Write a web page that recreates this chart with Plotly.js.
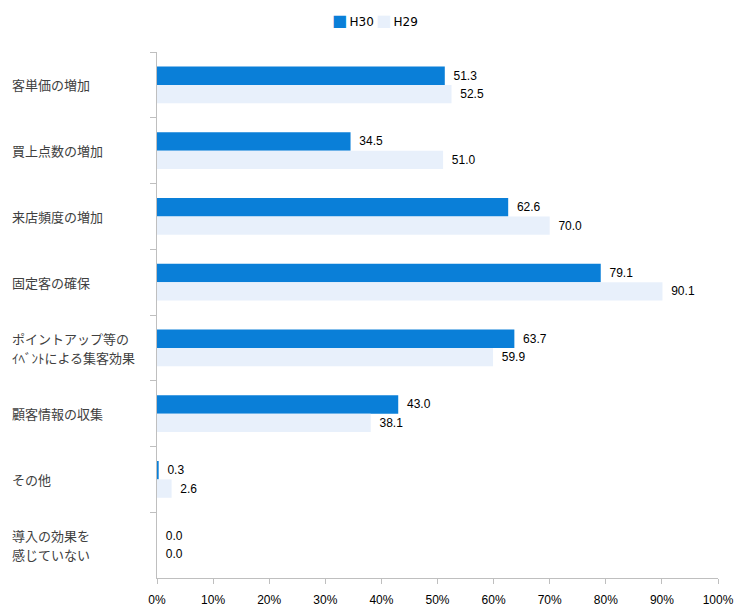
<!DOCTYPE html>
<html>
<head>
<meta charset="utf-8">
<script src="https://cdn.plot.ly/plotly-3.0.1.min.js"></script>
<style>body{margin:0;padding:0;background:#fff;}#chart{width:742px;height:608px;}</style>
</head>
<body>
<div id="chart"></div>
<script>
var categories = ["客単価の増加", "買上点数の増加", "来店頻度の増加", "固定客の確保", "ポイントアップ等の<br>ｲﾍﾞﾝﾄによる集客効果", "顧客情報の収集", "その他", "導入の効果を<br>感じていない"];
var h30 = [51.3, 34.5, 62.6, 79.1, 63.7, 43.0, 0.3, 0.0];
var h29 = [52.5, 51.0, 70.0, 90.1, 59.9, 38.1, 2.6, 0.0];
var seriesNames = ["H30", "H29"];
var seriesColors = ["#0A7FD8", "#E8F0FB"];
var xTicks = [0, 10, 20, 30, 40, 50, 60, 70, 80, 90, 100];

var numFont = {family: "Liberation Sans, Arial, sans-serif", size: 12, color: "#000000"};
var pre = "\u00a0\u2009";

var traces = [
  {type: "bar", orientation: "h", name: seriesNames[0], y: categories, x: h30,
   marker: {color: seriesColors[0]}, text: h30.map(function(v){return pre + v.toFixed(1);}),
   textposition: "outside", textfont: numFont, cliponaxis: false, hoverinfo: "x+y"},
  {type: "bar", orientation: "h", name: seriesNames[1], y: categories, x: h29,
   marker: {color: seriesColors[1]}, text: h29.map(function(v){return pre + v.toFixed(1);}),
   textposition: "outside", textfont: numFont, cliponaxis: false, hoverinfo: "x+y"}
];

var annotations = [];
categories.forEach(function(c){
  var lines = c.split("<br>");
  lines.forEach(function(line, k){
    var shift = (lines.length - 1) * 9.5 - k * 19;
    annotations.push({xref: "paper", yref: "y", x: -0.26, y: c, text: line, showarrow: false,
          xanchor: "left", yanchor: "middle", align: "left", yshift: shift, borderpad: 0,
          font: {family: "Noto Sans CJK JP, sans-serif", size: 13, color: "#404040"}});
  });
});
// legend drawn as text entries
var legendX = [0.31, 0.388];
seriesNames.forEach(function(n, i){
  annotations.push({xref: "paper", yref: "paper", x: legendX[i], y: 1.0608,
    xanchor: "left", yanchor: "middle", showarrow: false, borderpad: 0,
    text: '<span style="color:' + seriesColors[i] + ';font-size:16px">■</span>\u2009' + n,
    font: {family: "DejaVu Sans, sans-serif", size: 12, color: "#000"}});
});

var layout = {
  width: 742, height: 608,
  margin: {l: 157, r: 24, t: 52, b: 30, pad: 0},
  paper_bgcolor: "#ffffff", plot_bgcolor: "#ffffff",
  barmode: "group", bargap: 0.44, bargroupgap: 0,
  showlegend: false,
  xaxis: {range: [0, 100], tickvals: xTicks, ticktext: xTicks.map(function(v){return v + "%";}),
          showgrid: false, zeroline: false, showline: true, linecolor: "#BFBFBF", linewidth: 1,
          ticks: "outside", ticklen: 5, tickcolor: "#BFBFBF", ticklabelstandoff: 6,
          tickfont: numFont, fixedrange: true},
  yaxis: {type: "category", autorange: "reversed", showticklabels: false,
          showgrid: false, zeroline: false, showline: true, linecolor: "#BFBFBF", linewidth: 1,
          ticks: "outside", tickson: "boundaries", ticklen: 6, tickcolor: "#BFBFBF", fixedrange: true},
  annotations: annotations,
  font: {family: "Noto Sans CJK JP, sans-serif"}
};

Plotly.newPlot("chart", traces, layout, {displayModeBar: false, staticPlot: true});
</script>
</body>
</html>
